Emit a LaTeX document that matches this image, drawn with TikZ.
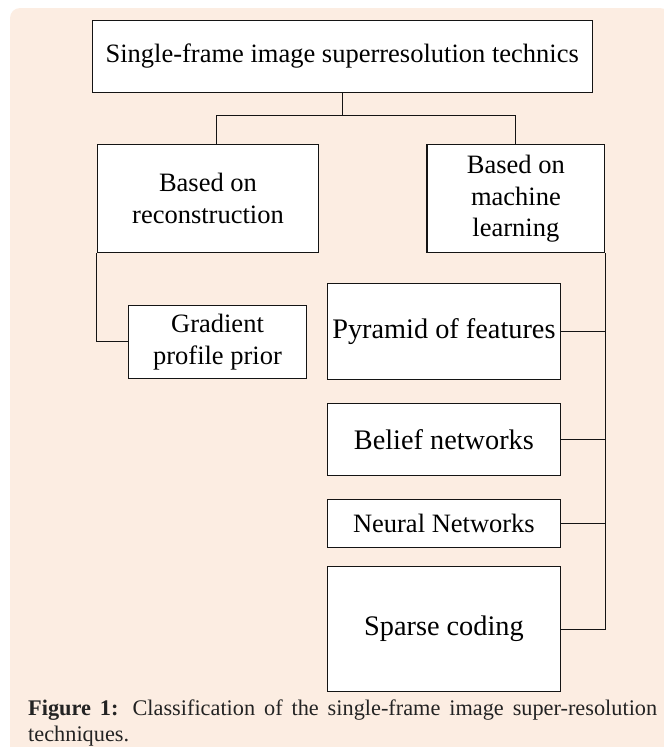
\documentclass[tikz,border=0pt]{standalone}
\usepackage{fontspec}
\setmainfont{Liberation Serif}
\usetikzlibrary{calc}
\definecolor{bgbeige}{RGB}{252,237,226}
\definecolor{linecol}{RGB}{20,20,20}
\definecolor{captcol}{RGB}{35,35,35}
\tikzset{
  box/.style={draw=linecol, line width=1.1pt, fill=white, inner sep=0pt, align=center, font=\fontsize{26.5}{31.8}\selectfont},
  bigbox/.style={box, font=\fontsize{28.3}{33}\selectfont},
  conn/.style={draw=linecol, line width=1.1pt},
}
\begin{document}
\begin{tikzpicture}[x=1pt,y=-1pt]
\useasboundingbox (0,0) rectangle (664,747);
\fill[bgbeige] (664,747) -- (10,747) [rounded corners=10pt] -- (10,8) -- (670,8) [sharp corners] -- (670,747) -- cycle;
% nodes
\node[box, minimum width=499.7pt, minimum height=72.3pt] (top) at (342.2,56.2) {Single-frame image superresolution technics};
\node[box, minimum width=221.1pt, minimum height=108pt] (recon) at (208,198.7) {Based on\\reconstruction};
\node[box, minimum width=177.9pt, minimum height=108pt] (ml) at (515.9,198.7) {Based on\\machine\\learning};
\node[box, minimum width=177.8pt, minimum height=73pt] (grad) at (217.5,341.8) {Gradient\\profile prior};
\node[bigbox, minimum width=232.9pt, minimum height=96pt] (pyr) at (443.9,331.3) {Pyramid of features};
\node[bigbox, minimum width=232.9pt, minimum height=72.4pt] (belief) at (443.9,439.5) {Belief networks};
\node[box, minimum width=232.9pt, minimum height=48.3pt] (neural) at (443.9,523.2) {Neural Networks};
\node[bigbox, minimum width=232.9pt, minimum height=125pt] (sparse) at (443.9,629.2) {Sparse coding};
% connectors
\coordinate (j) at (342.2,115.7);
\coordinate (rd) at (216.8,144.7);
\draw[conn] (top.south) -- (j);
\draw[conn] (rd) |- (j) -| (ml.north);
\draw[conn] (recon.south west) |- (grad.west);
\draw[conn] (ml.south east) |- (sparse.east);
\draw[conn] (pyr.east) -- (pyr.east -| ml.south east);
\draw[conn] (belief.east) -- (belief.east -| ml.south east);
\draw[conn] (neural.east) -- (neural.east -| ml.south east);
% caption
\node[anchor=base west, inner sep=0pt, text=captcol, font=\fontsize{22.3}{26}\selectfont] (cap1) at (28,715) {\makebox[629pt][s]{\textbf{Figure 1:} Classification of the single-frame image super-resolution}};
\node[anchor=base west, inner sep=0pt, text=captcol, font=\fontsize{22.3}{26}\selectfont] (cap2) at (28,741) {techniques.};
\end{tikzpicture}
\end{document}
